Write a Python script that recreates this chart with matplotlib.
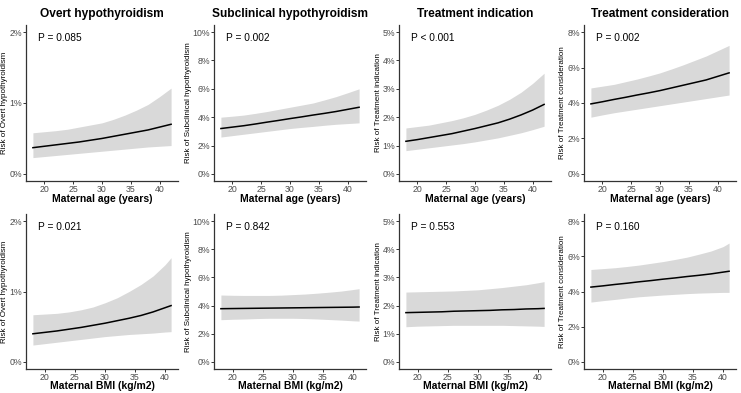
import numpy as np
import matplotlib
matplotlib.use('Agg')
import matplotlib.pyplot as plt
from matplotlib.ticker import FuncFormatter

plt.rcParams['font.family'] = ['Liberation Sans', 'DejaVu Sans']

# x grids
age_x = [18, 20, 22, 24, 26, 28, 30, 32, 34, 36, 38, 40, 42]
bmi_x = [18, 20, 22, 24, 26, 28, 30, 32, 34, 36, 38, 40, 41]

outcomes = ['Overt hypothyroidism', 'Subclinical hypothyroidism',
            'Treatment indication', 'Treatment consideration']
y_max = [2, 10, 5, 8]
y_step = [1, 2, 1, 2]

# top row: maternal age (risk in %)
age_fit = [
    [0.37, 0.39, 0.41, 0.43, 0.45, 0.475, 0.50, 0.53, 0.56, 0.59, 0.62, 0.66, 0.70],
    [3.20, 3.30, 3.40, 3.52, 3.65, 3.77, 3.90, 4.02, 4.15, 4.27, 4.40, 4.55, 4.70],
    [1.15, 1.21, 1.28, 1.35, 1.42, 1.51, 1.60, 1.70, 1.80, 1.93, 2.08, 2.25, 2.45],
    [3.95, 4.07, 4.20, 4.32, 4.45, 4.57, 4.70, 4.85, 5.00, 5.15, 5.30, 5.50, 5.70],
]
age_lo = [
    [0.23, 0.245, 0.26, 0.275, 0.29, 0.305, 0.32, 0.335, 0.35, 0.365, 0.38, 0.39, 0.40],
    [2.60, 2.70, 2.80, 2.90, 3.00, 3.10, 3.20, 3.28, 3.35, 3.43, 3.50, 3.55, 3.60],
    [0.82, 0.87, 0.92, 0.97, 1.02, 1.07, 1.13, 1.20, 1.27, 1.36, 1.45, 1.56, 1.68],
    [3.20, 3.33, 3.45, 3.55, 3.65, 3.75, 3.85, 3.95, 4.05, 4.15, 4.25, 4.35, 4.45],
]
age_hi = [
    [0.58, 0.595, 0.61, 0.63, 0.66, 0.69, 0.72, 0.77, 0.83, 0.90, 0.98, 1.09, 1.21],
    [4.00, 4.07, 4.15, 4.27, 4.40, 4.55, 4.70, 4.85, 5.00, 5.22, 5.45, 5.72, 6.00],
    [1.62, 1.67, 1.72, 1.80, 1.88, 1.98, 2.10, 2.25, 2.42, 2.63, 2.88, 3.19, 3.55],
    [4.85, 4.95, 5.05, 5.20, 5.35, 5.52, 5.70, 5.92, 6.15, 6.40, 6.65, 6.95, 7.25],
]
age_p = ['P = 0.085', 'P = 0.002', 'P < 0.001', 'P = 0.002']

# bottom row: maternal BMI
bmi_fit = [
    [0.40, 0.42, 0.44, 0.465, 0.49, 0.52, 0.55, 0.585, 0.62, 0.66, 0.71, 0.77, 0.80],
    [3.78, 3.79, 3.80, 3.81, 3.82, 3.83, 3.84, 3.85, 3.86, 3.87, 3.88, 3.89, 3.90],
    [1.75, 1.76, 1.77, 1.78, 1.80, 1.81, 1.82, 1.83, 1.85, 1.86, 1.88, 1.89, 1.90],
    [4.25, 4.32, 4.40, 4.47, 4.55, 4.62, 4.70, 4.77, 4.85, 4.92, 5.00, 5.10, 5.15],
]
bmi_lo = [
    [0.24, 0.26, 0.28, 0.30, 0.32, 0.34, 0.36, 0.375, 0.39, 0.40, 0.41, 0.425, 0.43],
    [3.00, 3.03, 3.05, 3.08, 3.10, 3.10, 3.10, 3.08, 3.05, 3.01, 2.97, 2.92, 2.90],
    [1.25, 1.27, 1.28, 1.29, 1.30, 1.30, 1.30, 1.30, 1.30, 1.29, 1.28, 1.27, 1.26],
    [3.40, 3.48, 3.55, 3.63, 3.70, 3.75, 3.80, 3.84, 3.88, 3.91, 3.93, 3.95, 3.95],
]
bmi_hi = [
    [0.67, 0.68, 0.69, 0.71, 0.74, 0.78, 0.84, 0.91, 1.00, 1.10, 1.22, 1.38, 1.48],
    [4.75, 4.73, 4.72, 4.72, 4.72, 4.74, 4.78, 4.82, 4.88, 4.95, 5.03, 5.14, 5.20],
    [2.48, 2.49, 2.50, 2.51, 2.52, 2.54, 2.56, 2.60, 2.64, 2.69, 2.74, 2.81, 2.85],
    [5.25, 5.30, 5.35, 5.42, 5.50, 5.60, 5.70, 5.82, 5.95, 6.12, 6.30, 6.55, 6.75],
]
bmi_p = ['P = 0.021', 'P = 0.842', 'P = 0.553', 'P = 0.160']

W, H = 741, 393
fig = plt.figure(figsize=(W / 100, H / 100), dpi=100)

lefts = [26, 214, 399, 584]
ylab_px = [5, 188, 378, 562]  # centre of the y label, pixels
width = 152
rows = [(25, 181, 199), (214, 369, 386)]  # top, bottom, x label centre (pixels)


def draw_panel(ax, x, fit, lo, hi, ptxt, xlabel, ymax, ystep, outcome, ylab_x, xlab_y):
    ax.fill_between(x, lo, hi, color='#d9d9d9', lw=0)
    ax.plot(x, fit, color='black', lw=1.1)
    span = x[-1] - x[0]
    ax.set_xlim(x[0] - 0.05 * span, x[-1] + 0.05 * span)
    ax.set_ylim(-0.05 * ymax, 1.05 * ymax)
    ax.set_xticks([20, 25, 30, 35, 40])
    ax.set_yticks(np.arange(0, ymax + 0.01, ystep))
    ax.yaxis.set_major_formatter(FuncFormatter(lambda v, _: f'{v:.0f}%'))
    for s in ['top', 'right']:
        ax.spines[s].set_visible(False)
    for s in ['left', 'bottom']:
        ax.spines[s].set_color('#333333')
        ax.spines[s].set_linewidth(0.9)
    ax.tick_params(length=2, width=0.7, color='#333333', labelsize=6.3,
                   labelcolor='#4d4d4d', pad=1)
    ax.set_xlabel(xlabel, fontsize=7.5, fontweight='bold', va='center')
    ax.xaxis.set_label_coords(0.5, xlab_y)
    ax.set_ylabel('Risk of ' + outcome, fontsize=5.8, va='center')
    ax.yaxis.set_label_coords(ylab_x, 0.5)
    ax.text(0.08, 0.915, ptxt, transform=ax.transAxes, fontsize=7.3,
            ha='left', va='center')


for i in range(4):
    lab_x = (ylab_px[i] - lefts[i]) / width
    for r, (top, bot, xl) in enumerate(rows):
        lab_y = (bot - xl) / (bot - top)
        ax = fig.add_axes([lefts[i] / W, 1 - bot / H, width / W, (bot - top) / H])
        if r == 0:
            draw_panel(ax, age_x, age_fit[i], age_lo[i], age_hi[i], age_p[i],
                       'Maternal age (years)', y_max[i], y_step[i], outcomes[i],
                       lab_x, lab_y)
            ax.set_title(outcomes[i], fontsize=8.6, fontweight='bold', pad=6)
        else:
            draw_panel(ax, bmi_x, bmi_fit[i], bmi_lo[i], bmi_hi[i], bmi_p[i],
                       'Maternal BMI (kg/m2)', y_max[i], y_step[i], outcomes[i],
                       lab_x, lab_y)

fig.savefig('out.png', dpi=100, facecolor='white')
